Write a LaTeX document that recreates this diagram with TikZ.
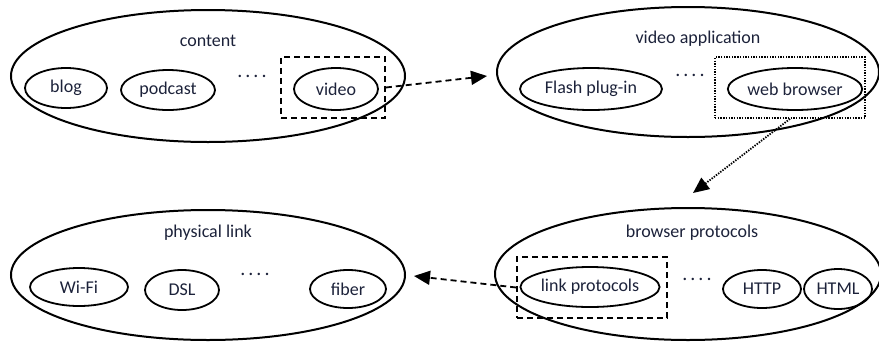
\documentclass[tikz,border=0pt]{standalone}
\usepackage{fontspec}
\setmainfont{Carlito}
\usetikzlibrary{shapes.geometric,arrows.meta}
\definecolor{txt}{RGB}{28,34,58}
\tikzset{
  big/.style={draw=black, line width=2pt, ellipse, inner sep=0pt},
  small/.style={draw=black, line width=1.8pt, ellipse, inner sep=0pt, text=txt, font=\fontsize{18}{20}\selectfont},
  lbl/.style={text=txt, font=\fontsize{18}{20}\selectfont, inner sep=0pt},
  dots/.style={text=txt, font=\fontsize{20}{22}\selectfont, inner sep=0pt, anchor=base},
  dbox/.style={draw=black, line width=1.7pt, dash pattern=on 6pt off 4pt, rectangle, inner sep=0pt},
  tbox/.style={draw=black, line width=1.7pt, dash pattern=on 1.4pt off 1.3pt, rectangle, inner sep=0pt},
  conn/.style={line width=1.8pt, -{Triangle[length=16pt,width=14pt]}},
}
\newcommand{\fourdots}{.\kern3pt.\kern3pt.\kern3pt.}
\begin{document}
\begin{tikzpicture}[x=1pt,y=-1pt]
\useasboundingbox (0,0) rectangle (879,341);
\begin{scope}
\clip (0,0) rectangle (879,341);
% big ellipses
\node[big, minimum width=394pt, minimum height=132pt] (E1) at (208,76) {};
\node[big, minimum width=382pt, minimum height=130pt] (E2) at (688,72) {};
\node[big, minimum width=394pt, minimum height=130pt] (E3) at (208,275) {};
\node[big, minimum width=386pt, minimum height=132pt] (E4) at (688,274) {};
\end{scope}
% labels
\node[lbl] (L1) at (208,41) {content};
\node[lbl] (L2) at (698,39) {video application};
\node[lbl] (L3) at (208,233) {physical link};
\node[lbl] (L4) at (692,233) {browser protocols};
% small ellipses
\node[small, minimum width=82pt, minimum height=40pt] (blog) at (66,88) {blog};
\node[small, minimum width=94pt, minimum height=40pt] (podcast) at (168,90) {podcast};
\node[small, minimum width=84pt, minimum height=42pt] (video) at (336,89) {video};
\node[small, minimum width=142pt, minimum height=42pt] (flash) at (591,89) {Flash plug-in};
\node[small, minimum width=134pt, minimum height=42pt] (web) at (795,89) {web browser};
\node[small, minimum width=98pt, minimum height=38pt] (wifi) at (79,287) {Wi-Fi};
\node[small, minimum width=74pt, minimum height=40pt] (dsl) at (182,290) {DSL};
\node[small, minimum width=76pt, minimum height=38pt] (fiber) at (348,289) {fiber};
\node[small, minimum width=134pt, minimum height=40pt] (link) at (590,287) {link protocols};
\node[small, minimum width=78pt, minimum height=38pt] (http) at (762,289) {HTTP};
\node[small, minimum width=68pt, minimum height=40pt] (html) at (838,289) {HTML};
% dots
\node[dots] (D1) at (252,77) {\fourdots};
\node[dots] (D2) at (690,76) {\fourdots};
\node[dots] (D3) at (255,275) {\fourdots};
\node[dots] (D4) at (697,280) {\fourdots};
% boxes
\node[dbox, minimum width=104pt, minimum height=61pt] (B1) at (333,87.5) {};
\node[tbox, minimum width=150pt, minimum height=61pt] (B2) at (790,87.5) {};
\node[dbox, minimum width=150pt, minimum height=61pt] (B3) at (592,287.5) {};
% arrow ends
\coordinate (T1) at (487,76);
\coordinate (T2) at (693,193);
\coordinate (T3) at (414,276);
\draw[conn, dash pattern=on 6pt off 4pt] (B1.east) -- (T1);
\draw[conn, dash pattern=on 1.4pt off 1.3pt] (B2.south) -- (T2);
\draw[conn, dash pattern=on 6pt off 4pt] (B3.west) -- (T3);
\end{tikzpicture}
\end{document}
